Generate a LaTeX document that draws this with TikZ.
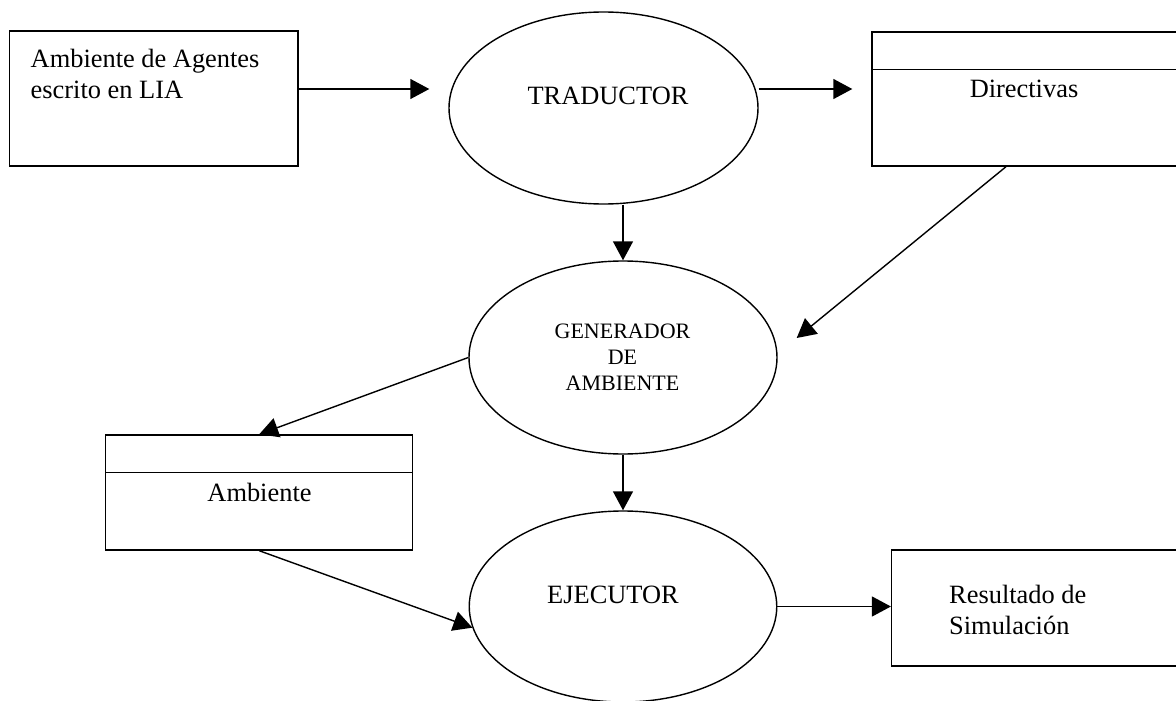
\documentclass[tikz,border=0pt]{standalone}
\usepackage{fontspec}
\setmainfont{Liberation Serif}
\usetikzlibrary{arrows.meta,shapes.geometric,calc}
\begin{document}
\begin{tikzpicture}[x=1pt,y=-1pt,
  lw/.style={line width=1.4pt},
  boxnode/.style={draw,lw,rectangle,inner sep=0pt},
  ellnode/.style={draw,lw,ellipse,inner sep=0pt},
  txt/.style={inner sep=0pt,font=\fontsize{26.4}{31}\selectfont},
  smalltxt/.style={inner sep=0pt,font=\fontsize{22}{26}\selectfont,align=center},
  arr/.style={lw,-{Triangle[length=19pt,width=20pt]}},
]
\useasboundingbox (0,0) rectangle (1176,701);
\clip (0,0) rectangle (1176,701);

% boxes
\node[boxnode, minimum width=288.5pt, minimum height=135pt] (box1) at (153.75,98.5) {};
\node[boxnode, minimum width=318pt, minimum height=134pt] (dir) at (1031,99) {};
\draw[lw] ($(dir.north west)+(0,38)$) -- ($(dir.north east)+(0,38)$);
\node[boxnode, minimum width=307pt, minimum height=115pt] (amb) at (259.2,492.5) {};
\draw[lw] ($(amb.north west)+(0,38)$) -- ($(amb.north east)+(0,38)$);
\node[boxnode, minimum width=298.4pt, minimum height=116pt] (res) at (1040.8,608) {};

% ellipses
\node[ellnode, minimum width=309pt, minimum height=192pt] (trad) at (603.5,108) {};
\node[ellnode, minimum width=308pt, minimum height=193pt] (gen) at (623,357.5) {};
\node[ellnode, minimum width=307.5pt, minimum height=191pt] (ejec) at (623,606.5) {};

% texts
\node[txt, anchor=north west, align=left] (t1) at (30.5,49) {Ambiente de Agentes\\escrito en LIA};
\node[txt, anchor=base] (t2) at (608,105) {TRADUCTOR};
\node[txt, anchor=base] (t3) at (1024,98) {Directivas};
\node[smalltxt, anchor=north] (t4) at (622.5,323.4) {GENERADOR\\DE\\AMBIENTE};
\node[txt, anchor=base] (t5) at (259.5,501) {Ambiente};
\node[txt, anchor=base] (t6) at (613,603) {EJECUTOR};
\node[txt, anchor=north west, align=left] (t7) at (949,585) {Resultado de\\Simulación};

% connectors
\draw[arr] ([yshift=9.5pt]box1.east) -- ([shift={(-19pt,19pt)}]trad.west);
\draw[arr] ([yshift=19pt]trad.east) -- ([shift={(-19pt,10pt)}]dir.west);
\draw[arr] (trad.south -| gen.north) -- (gen.north);
\draw[arr] ([xshift=-25pt]dir.south) -- ([shift={(19pt,19.5pt)}]gen.east);
\draw[arr] (gen.west) -- (amb.north);
\draw[arr] (gen.south) -- (ejec.north);
\draw[arr] (amb.south) -- (ejec.188);
\draw[arr] (ejec.east) -- (ejec.east -| res.west);
\end{tikzpicture}
\end{document}
